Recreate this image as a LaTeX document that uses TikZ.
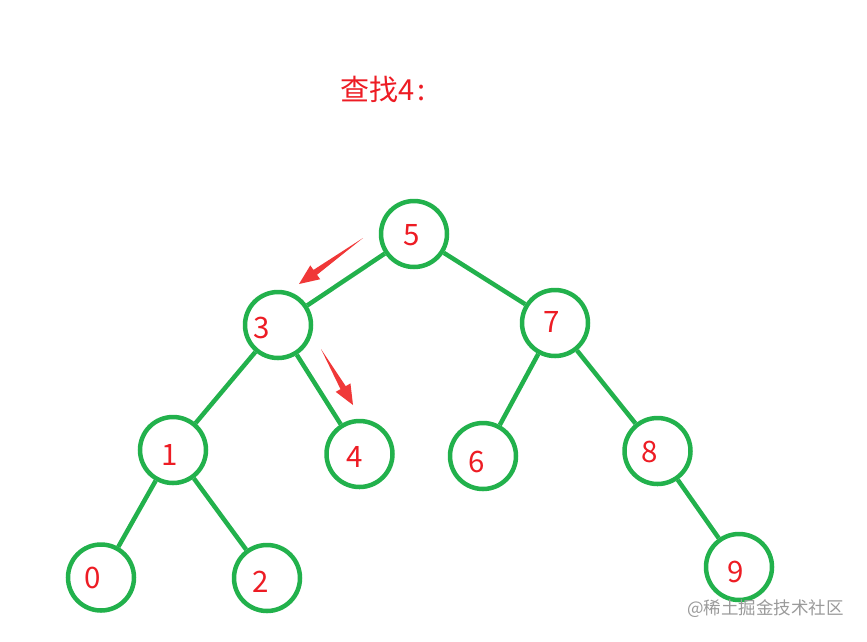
\documentclass[tikz,border=0pt]{standalone}
\usepackage{fontspec}
\setmainfont{Noto Sans CJK SC}
\usetikzlibrary{calc}
\definecolor{treegreen}{HTML}{22B14C}
\definecolor{numred}{HTML}{ED1C24}
\definecolor{arrowred}{HTML}{F03838}
\definecolor{markgray}{HTML}{9A9A9A}
\newcommand\mytaper[3]{%
  \coordinate (#3b) at ($(#2)!20pt!(#1)$);
  \fill[arrowred] (#1) -- ($(#3b)!3pt!90:(#2)$) -- ($(#3b)!8.5pt!90:(#2)$) -- (#2)
    -- ($(#3b)!8.5pt!-90:(#2)$) -- ($(#3b)!3pt!-90:(#2)$) -- cycle;
}
\begin{document}
\begin{tikzpicture}[x=1pt,y=-1pt,
  tnode/.style={circle,draw=treegreen,line width=4.5pt,minimum size=66pt,inner sep=0pt},
  num/.style={text=numred,font=\fontsize{29.5pt}{31pt}\selectfont,inner sep=0pt},
  edge/.style={draw=treegreen,line width=4.5pt}]
\useasboundingbox (0,0) rectangle (867,641);
\node[text=numred,font=\fontsize{29pt}{31pt}\selectfont,anchor=west,inner sep=0pt] (title) at (340,89) {查找4\kern3pt:};
\node[tnode] (n5) at (414,234) {};
\node[tnode] (n3) at (278,325) {};
\node[tnode] (n7) at (555,323) {};
\node[tnode] (n1) at (173,450) {};
\node[tnode] (n4) at (359.5,454) {};
\node[tnode] (n6) at (483,456) {};
\node[tnode] (n8) at (657.5,451) {};
\node[tnode] (n0) at (101,577.5) {};
\node[tnode] (n2) at (267,578) {};
\node[tnode] (n9) at (739,567) {};
\node[num] (l5) at (412,235) {5};
\node[num] (l3) at (262,328) {3};
\node[num] (l7) at (551.5,322) {7};
\node[num] (l1) at (170,455) {1};
\node[num] (l4) at (355,457) {4};
\node[num] (l6) at (477,462) {6};
\node[num] (l8) at (650,452) {8};
\node[num] (l0) at (93,578) {0};
\node[num] (l2) at (261,582) {2};
\node[num] (l9) at (736,572) {9};
\path[edge] (n5) -- (n3);
\path[edge] (n5) -- (n7);
\path[edge] (n3) -- (n1);
\path[edge] (n3) -- (n4);
\path[edge] (n7) -- (n6);
\path[edge] (n7) -- (n8);
\path[edge] (n1) -- (n0);
\path[edge] (n1) -- (n2);
\path[edge] (n8) -- (n9);
\coordinate (a1s) at (363,238);
\coordinate (a1e) at (299,284);
\coordinate (a2s) at (321,349);
\coordinate (a2e) at (353,405);
\mytaper{a1s}{a1e}{p1}
\mytaper{a2s}{a2e}{p2}
\node[text=markgray,font=\fontsize{17.5pt}{19pt}\selectfont,anchor=west,inner sep=0pt] (mark) at (687,609) {@稀土掘金技术社区};
\end{tikzpicture}
\end{document}
